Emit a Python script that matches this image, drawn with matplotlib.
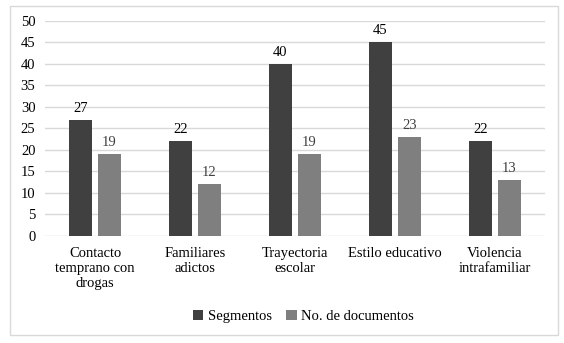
import matplotlib
matplotlib.use("Agg")
import matplotlib.pyplot as plt
import numpy as np
from matplotlib.patches import Rectangle

categories = ["Contacto\ntemprano con\ndrogas", "Familiares\nadictos", "Trayectoria\nescolar",
              "Estilo educativo", "Violencia\nintrafamiliar"]
segmentos = [27, 22, 40, 45, 22]
documentos = [19, 12, 19, 23, 13]
series_names = ["Segmentos", "No. de documentos"]

plt.rcParams['font.family'] = ['Liberation Serif', 'DejaVu Serif']
fig = plt.figure(figsize=(5.64, 3.43), dpi=100)
ax = fig.add_axes([0.080, 0.312, 0.886, 0.627])

x = np.arange(len(categories))
w = 0.23
off = 0.145
b1 = ax.bar(x - off, segmentos, w, color="#404040", label=series_names[0], zorder=3)
b2 = ax.bar(x + off, documentos, w, color="#7f7f7f", label=series_names[1], zorder=3)
for bars, vals in ((b1, segmentos), (b2, documentos)):
    for r, v in zip(bars, vals):
        ax.text(r.get_x() + r.get_width() / 2, v + 1.2, str(v), ha="center", va="bottom",
                fontsize=10.5, color="#404040" if bars is b2 else "#000000")

ax.set_xlim(-0.5, len(categories) - 0.5)
ax.set_ylim(0, 50)
ax.set_yticks(range(0, 51, 5))
ax.set_xticks(x)
ax.set_xticklabels(categories, fontsize=10.5, linespacing=1.22)
ax.tick_params(axis="y", labelsize=10.5, length=0, pad=7)
ax.tick_params(axis="x", length=0, pad=8)
ax.yaxis.grid(True, color="#d9d9d9", linewidth=1, zorder=0)
for s in ax.spines.values():
    s.set_visible(False)

fig.legend(handles=[b1, b2], labels=series_names, loc="center", bbox_to_anchor=(0.538, 0.078),
           ncol=2, frameon=False, fontsize=10.5, handlelength=0.7, handleheight=0.7,
           handletextpad=0.3, columnspacing=1.0)

fig.patches.append(Rectangle((10 / 564, 1 - 335 / 343), 548 / 564, 329 / 343, transform=fig.transFigure,
                             fill=False, edgecolor="#d9d9d9", linewidth=1))
fig.savefig("out.png", dpi=100)
